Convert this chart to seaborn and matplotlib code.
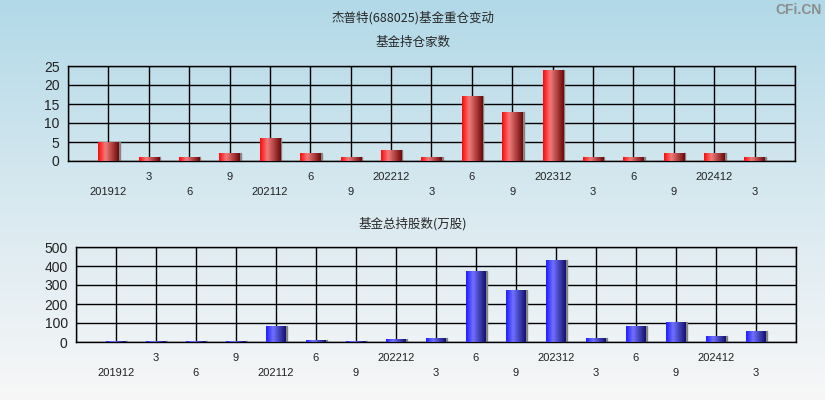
"""
Fund holdings change chart for 杰普特(688025): two bar panels.
"""

import numpy as np
import pandas as pd
import seaborn as sns
from matplotlib import pyplot as plt
from matplotlib.colors import LinearSegmentedColormap
from matplotlib.patches import Rectangle

# Reporting periods and their short tick labels.
periods = [
    "201912", "202003", "202006", "202009", "202112", "202206", "202209",
    "202212", "202303", "202306", "202309", "202312", "202403", "202406",
    "202409", "202412", "202503",
]
tick_labels = [
    "201912", "3", "6", "9", "202112", "6", "9", "202212", "3", "6", "9",
    "202312", "3", "6", "9", "202412", "3",
]
# Number of funds holding the stock.
fund_counts = [5, 1, 1, 2, 6, 2, 1, 3, 1, 17, 13, 24, 1, 1, 2, 2, 1]
# Total shares held by funds (10k shares).
fund_shares = [3, 3, 3, 3, 84, 10, 4, 16, 21, 374, 274, 432, 21, 84, 104, 32, 58]

sns.set_style("white")
plt.rcParams["font.family"] = ["Liberation Sans", "Noto Sans CJK SC", "DejaVu Sans"]
CJK = ["Noto Sans CJK SC", "DejaVu Sans"]

fig = plt.figure(figsize=(8.25, 4), dpi=100)

# Background: vertical gradient light blue -> near white.
bg = fig.add_axes([0, 0, 1, 1], zorder=-10)
grad = np.linspace(0, 1, 256).reshape(-1, 1)
bg_cmap = LinearSegmentedColormap.from_list("bg", ["#b2d9e8", "#d8e9f0", "#f7f7f7"])
bg.imshow(grad, aspect="auto", cmap=bg_cmap, extent=[0, 1, 0, 1])
bg.axis("off")

red_cmap = LinearSegmentedColormap.from_list(
    "red", [(0, "#ff0a0a"), (0.35, "#f27a7a"), (1, "#6e0808")]
)
blue_cmap = LinearSegmentedColormap.from_list(
    "blue", [(0, "#1e1eff"), (0.35, "#7070ff"), (1, "#121270")]
)


def draw_panel(ax, values, ymax, ystep, cmap):
    df = pd.DataFrame({"period": periods, "value": values})
    sns.barplot(data=df, x="period", y="value", width=0.5, color="red", ax=ax, zorder=3)

    # Replace the flat fill with a horizontal gradient, plus a thin grey shadow.
    hgrad = np.linspace(0, 1, 64).reshape(1, -1)
    for patch in list(ax.patches):
        x, w, h = patch.get_x(), patch.get_width(), patch.get_height()
        ax.add_patch(Rectangle((x + w, 0), 0.03, h, color="#858585", zorder=2))
        im = ax.imshow(hgrad, aspect="auto", cmap=cmap, extent=[x, x + w, 0, h], zorder=3)
        im.set_clip_path(patch)
        patch.set_facecolor("none")
        patch.set_edgecolor("none")

    ax.set_facecolor("none")
    ax.set_xlim(-1, len(periods))
    ax.set_ylim(0, ymax)
    ax.set_yticks(np.arange(0, ymax + 1, ystep))

    ticks = list(range(-1, len(periods) + 1))
    labels = [""]
    for i, lbl in enumerate(tick_labels):
        labels.append(lbl if i % 2 == 1 else "\n" + lbl)
    labels.append("")
    ax.set_xticks(ticks)
    ax.set_xticklabels(labels, fontsize=8, color="#222222")
    for t in ax.get_xticklabels():
        t.set_linespacing(1.6)
    ax.tick_params(axis="x", length=5, width=1, color="black", direction="out", pad=3)
    ax.tick_params(axis="y", length=4, width=1, color="black", direction="out",
                   pad=2, labelsize=10, labelcolor="#222222")

    ax.grid(True, color="black", linewidth=1)
    ax.set_axisbelow(True)
    for s in ax.spines.values():
        s.set_color("black")
        s.set_linewidth(1)
    ax.set_xlabel("")
    ax.set_ylabel("")


ax1 = fig.add_axes([0.0824, 0.5975, 0.8812, 0.2375])
draw_panel(ax1, fund_counts, 25, 5, red_cmap)

ax2 = fig.add_axes([0.0921, 0.145, 0.8727, 0.2375])
draw_panel(ax2, fund_shares, 500, 100, blue_cmap)

fig.text(0.5, 0.955, "杰普特(688025)基金重仓变动", ha="center", va="center",
         fontsize=9, family=CJK)
fig.text(0.5, 0.893, "基金持仓家数", ha="center", va="center", fontsize=9, family=CJK)
fig.text(0.5, 0.44, "基金总持股数(万股)", ha="center", va="center", fontsize=9, family=CJK)
fig.text(0.996, 0.975, "CFi.CN", ha="right", va="center", fontsize=10,
         fontweight="bold", color="#8c8c8c")

fig.savefig("out.png", dpi=100)
